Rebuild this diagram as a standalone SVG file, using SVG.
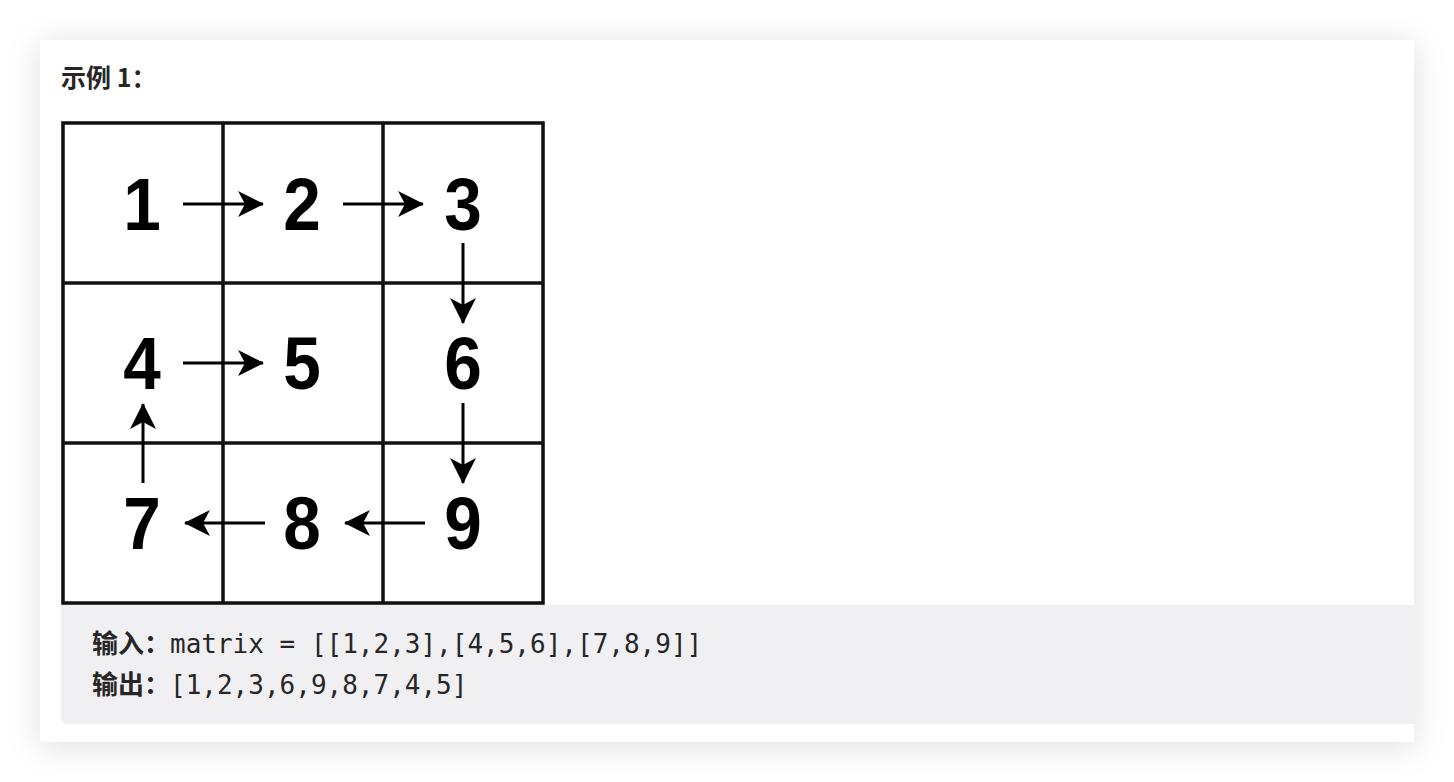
<svg xmlns="http://www.w3.org/2000/svg" width="1454" height="782" viewBox="0 0 1454 782">
  <defs>
    <filter id="shadow" x="-10%" y="-10%" width="120%" height="125%">
      <feDropShadow dx="0" dy="4" stdDeviation="16" flood-color="#000" flood-opacity="0.13"/>
    </filter>
    <marker id="arrow" viewBox="0 0 26 26" refX="25" refY="13" markerWidth="26" markerHeight="26" orient="auto" markerUnits="userSpaceOnUse">
      <path d="M0,0 L26,13 L0,26 L7,13 Z" fill="#000"/>
    </marker>
  </defs>
  <style>
    .title { font-family: "Noto Sans CJK SC", "Noto Sans", sans-serif; font-weight: bold; font-size: 25px; fill: #262626; }
    .cn { font-family: "Noto Sans CJK SC", "Noto Sans", sans-serif; font-weight: bold; font-size: 26px; fill: #262626; }
    .mono { font-family: "DejaVu Sans Mono", "Liberation Mono", monospace; font-size: 26px; fill: #262626; }
    .num { font-family: "Liberation Sans", Arial, sans-serif; font-weight: bold; font-size: 75px; fill: #000; text-anchor: middle; }
    .grid { stroke: #111; stroke-width: 3.5; fill: none; }
    .conn { stroke: #000; stroke-width: 3; fill: none; marker-end: url(#arrow); }
  </style>
  <rect x="0" y="0" width="1454" height="782" fill="#ffffff"/>
  <rect x="40" y="40" width="1374" height="702" fill="#ffffff" filter="url(#shadow)"/>
  <text class="title" x="61" y="87">示例 1：</text>

  <g id="codeblock">
    <path d="M61,605 H1414 V724 H67 Q61,724 61,718 Z" fill="#f0f0f2"/>
    <text class="cn" x="92" y="653">输入：</text>
    <text class="mono" x="170" y="653">matrix = [[1,2,3],[4,5,6],[7,8,9]]</text>
    <text class="cn" x="92" y="694">输出：</text>
    <text class="mono" x="170" y="694">[1,2,3,6,9,8,7,4,5]</text>
  </g>

  <g id="grid">
    <rect x="62" y="122" width="482" height="482" fill="#fff" stroke="#bbb" stroke-width="1"/>
    <rect class="grid" x="63" y="123" width="480" height="480"/>
    <line class="grid" x1="223" y1="123" x2="223" y2="603"/>
    <line class="grid" x1="383" y1="123" x2="383" y2="603"/>
    <line class="grid" x1="63" y1="283" x2="543" y2="283"/>
    <line class="grid" x1="63" y1="443" x2="543" y2="443"/>
  </g>

  <g id="n1"><text class="num" x="142" y="230" transform="translate(142 0) scale(0.9 1) translate(-142 0)">1</text></g>
  <g id="n2"><text class="num" x="302" y="230" transform="translate(302 0) scale(0.9 1) translate(-302 0)">2</text></g>
  <g id="n3"><text class="num" x="463" y="230" transform="translate(463 0) scale(0.9 1) translate(-463 0)">3</text></g>
  <g id="n4"><text class="num" x="142" y="389" transform="translate(142 0) scale(0.9 1) translate(-142 0)">4</text></g>
  <g id="n5"><text class="num" x="302" y="389" transform="translate(302 0) scale(0.9 1) translate(-302 0)">5</text></g>
  <g id="n6"><text class="num" x="463" y="389" transform="translate(463 0) scale(0.9 1) translate(-463 0)">6</text></g>
  <g id="n7"><text class="num" x="142" y="549" transform="translate(142 0) scale(0.9 1) translate(-142 0)">7</text></g>
  <g id="n8"><text class="num" x="302" y="549" transform="translate(302 0) scale(0.9 1) translate(-302 0)">8</text></g>
  <g id="n9"><text class="num" x="463" y="549" transform="translate(463 0) scale(0.9 1) translate(-463 0)">9</text></g>

  <g id="connectors">
    <line class="conn" x1="183" y1="204" x2="263" y2="204"/>
    <line class="conn" x1="343" y1="204" x2="423" y2="204"/>
    <line class="conn" x1="463" y1="243" x2="463" y2="323"/>
    <line class="conn" x1="463" y1="403" x2="463" y2="483"/>
    <line class="conn" x1="425" y1="523" x2="345" y2="523"/>
    <line class="conn" x1="265" y1="523" x2="185" y2="523"/>
    <line class="conn" x1="143" y1="483" x2="143" y2="404"/>
    <line class="conn" x1="183" y1="363" x2="263" y2="363"/>
  </g>
</svg>
